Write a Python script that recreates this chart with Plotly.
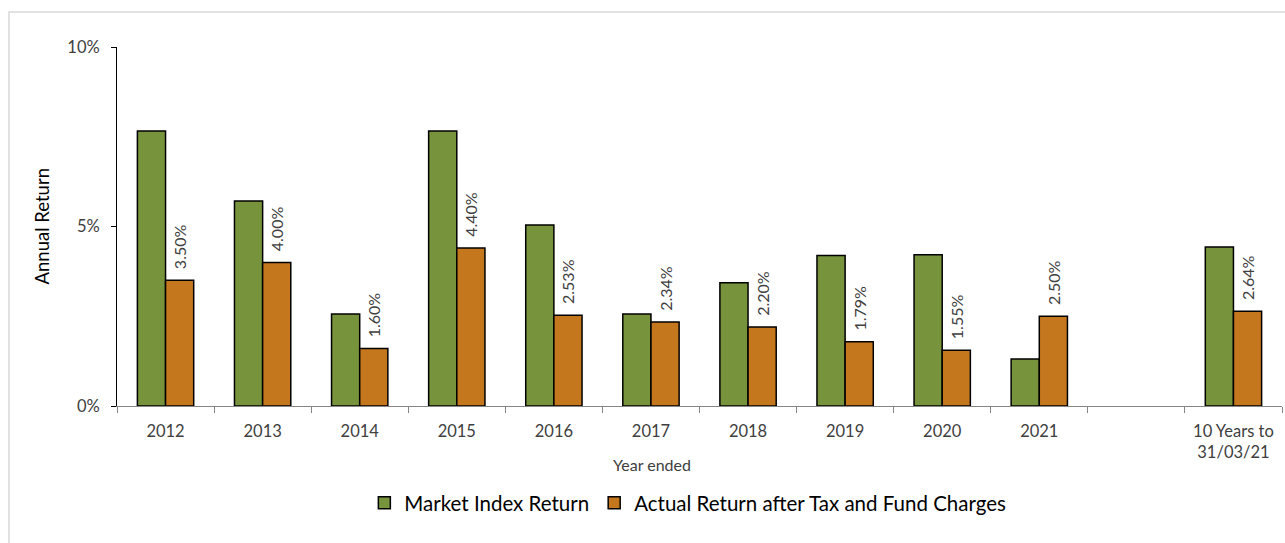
import plotly.graph_objects as go

categories = ["2012", "2013", "2014", "2015", "2016", "2017", "2018", "2019", "2020", "2021", " ", "10 Years to<br>31/03/21"]
market_index = [7.66, 5.71, 2.56, 7.66, 5.04, 2.56, 3.43, 4.19, 4.21, 1.31, None, 4.43]
actual_return = [3.50, 4.00, 1.60, 4.40, 2.53, 2.34, 2.20, 1.79, 1.55, 2.50, None, 2.64]
y_ticks = [0, 5, 10]
y_tick_labels = ["0%", "5%", "10%"]

FONT = "Lato"
TXT = "#404040"

fig = go.Figure()
fig.add_trace(go.Bar(
    x=categories, y=market_index, name="Market Index Return",
    marker=dict(color="#77933C", line=dict(color="#000000", width=1.5)),
))
fig.add_trace(go.Bar(
    x=categories, y=actual_return, name="Actual Return after Tax and Fund Charges",
    marker=dict(color="#C5771E", line=dict(color="#000000", width=1.5)),
    texttemplate="\u00a0\u00a0%{y:.2f}%", textposition="outside", textangle=-90,
    constraintext="none",
    textfont=dict(family=FONT, size=16, color=TXT), cliponaxis=False,
))

fig.update_layout(
    width=1285, height=543,
    margin=dict(l=117, r=3, t=47, b=137),
    paper_bgcolor="white", plot_bgcolor="white",
    barmode="group", bargap=0.42, bargroupgap=0,
    font=dict(family=FONT, size=15, color=TXT),
    showlegend=True,
    legend=dict(orientation="h", x=0.49, xanchor="center", y=-0.27, yanchor="middle",
                font=dict(family=FONT, size=20.5, color="#000000"),
                itemwidth=30, tracegroupgap=0),
    xaxis=dict(type="category", categoryorder="array", categoryarray=categories,
               showline=True, linecolor="#868686", linewidth=1,
               ticks="outside", tickson="boundaries", ticklen=6, tickcolor="#868686",
               ticklabelstandoff=10,
               tickfont=dict(family=FONT, size=16.5, color=TXT), showgrid=False),
    yaxis=dict(range=[0, 10], tickvals=y_ticks, ticktext=y_tick_labels,
               showline=True, linecolor="#000000", linewidth=1,
               ticks="outside", ticklen=5, tickcolor="#000000",
               ticklabelstandoff=8,
               tickfont=dict(family=FONT, size=16.5, color=TXT),
               showgrid=False, zeroline=False),
    annotations=[
        dict(text="Year ended", xref="paper", yref="paper", x=0.459, y=-0.1616,
             showarrow=False, font=dict(family=FONT, size=16, color=TXT),
             xanchor="center", yanchor="middle"),
        dict(text="Annual Return", xref="paper", yref="paper", x=-0.0644, y=0.5,
             showarrow=False, textangle=-90, font=dict(family=FONT, size=18.5, color="#000000"),
             xanchor="center", yanchor="middle"),
    ],
    shapes=[
        dict(type="rect", xref="paper", yref="paper",
             x0=-0.0927, x1=1.01, y0=-0.45, y1=1.0975,
             line=dict(color="#D9D9D9", width=1.5), fillcolor="rgba(0,0,0,0)", layer="below"),
    ],
)

fig.write_html("out.html", config={"displayModeBar": False},
               post_script="document.body.style.margin='0';document.body.style.overflow='hidden';")
